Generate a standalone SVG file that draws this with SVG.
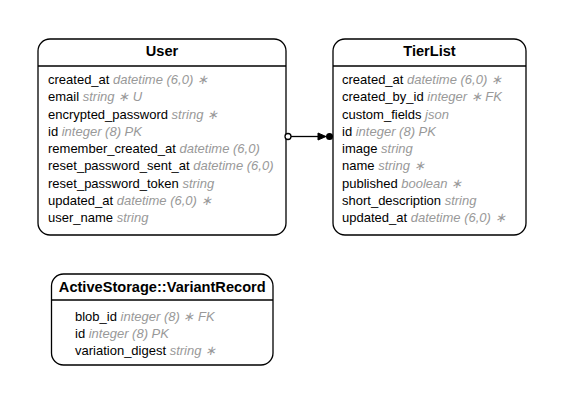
<svg xmlns="http://www.w3.org/2000/svg" width="563" height="406" viewBox="0 0 563 406">
<style>
.box{fill:#fff;stroke:#000;stroke-width:1.3}
.sep{stroke:#000;stroke-width:1.3}
.title{font-family:"Liberation Sans",Arial,sans-serif;font-weight:bold;font-size:14.6px;fill:#000;text-anchor:middle}
.row{font-family:"Liberation Sans",Arial,sans-serif;font-size:13px;fill:#000}
.t{font-style:italic;fill:#999}
.edge{stroke:#000;stroke-width:1.3;fill:none}
</style>
<rect width="563" height="406" fill="#fff"/>
<g id="User">
<rect class="box" x="38" y="39" width="248" height="196" rx="12"/>
<line class="sep" x1="38" y1="66" x2="286" y2="66"/>
<text class="title" x="162" y="56">User</text>
<text class="row" x="48" y="84">created_at <tspan class="t">datetime (6,0) ∗</tspan></text>
<text class="row" x="48" y="101.25">email <tspan class="t">string ∗ U</tspan></text>
<text class="row" x="48" y="118.5">encrypted_password <tspan class="t">string ∗</tspan></text>
<text class="row" x="48" y="135.75">id <tspan class="t">integer (8) PK</tspan></text>
<text class="row" x="48" y="153">remember_created_at <tspan class="t">datetime (6,0)</tspan></text>
<text class="row" x="48" y="170.25">reset_password_sent_at <tspan class="t">datetime (6,0)</tspan></text>
<text class="row" x="48" y="187.5">reset_password_token <tspan class="t">string</tspan></text>
<text class="row" x="48" y="204.75">updated_at <tspan class="t">datetime (6,0) ∗</tspan></text>
<text class="row" x="48" y="222">user_name <tspan class="t">string</tspan></text>
</g>
<g id="TierList">
<rect class="box" x="333" y="39" width="193" height="196" rx="12"/>
<line class="sep" x1="333" y1="66" x2="526" y2="66"/>
<text class="title" x="429.5" y="56">TierList</text>
<text class="row" x="342" y="84">created_at <tspan class="t">datetime (6,0) ∗</tspan></text>
<text class="row" x="342" y="101.25">created_by_id <tspan class="t">integer ∗ FK</tspan></text>
<text class="row" x="342" y="118.5">custom_fields <tspan class="t">json</tspan></text>
<text class="row" x="342" y="135.75">id <tspan class="t">integer (8) PK</tspan></text>
<text class="row" x="342" y="153">image <tspan class="t">string</tspan></text>
<text class="row" x="342" y="170.25">name <tspan class="t">string ∗</tspan></text>
<text class="row" x="342" y="187.5">published <tspan class="t">boolean ∗</tspan></text>
<text class="row" x="342" y="204.75">short_description <tspan class="t">string</tspan></text>
<text class="row" x="342" y="222">updated_at <tspan class="t">datetime (6,0) ∗</tspan></text>
</g>
<g id="ActiveStorageVariantRecord">
<rect class="box" x="51.5" y="274" width="221.5" height="91" rx="12"/>
<line class="sep" x1="51.5" y1="300" x2="273" y2="300"/>
<text class="title" x="162.25" y="292">ActiveStorage::VariantRecord</text>
<text class="row" x="75" y="321">blob_id <tspan class="t">integer (8) ∗ FK</tspan></text>
<text class="row" x="75" y="338">id <tspan class="t">integer (8) PK</tspan></text>
<text class="row" x="75" y="355">variation_digest <tspan class="t">string ∗</tspan></text>
</g>
<g id="connectors">
<line class="edge" x1="291" y1="136.5" x2="318" y2="136.5"/>
<circle cx="288" cy="136.5" r="3" fill="#fff" stroke="#000" stroke-width="1.3"/>
<polygon points="318,133 326,136.5 318,140" fill="#000" stroke="#000" stroke-width="1"/>
<circle cx="329.5" cy="136.5" r="3.5" fill="#000"/>
</g>
</svg>
